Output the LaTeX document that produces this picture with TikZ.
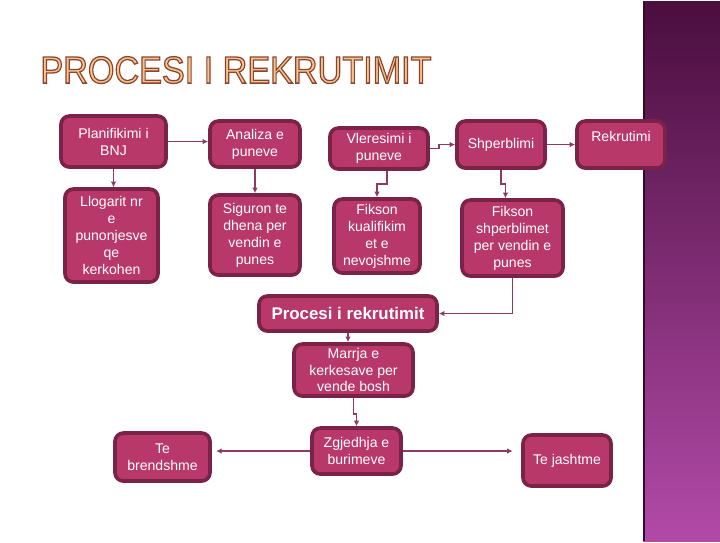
\documentclass[tikz,border=0pt]{standalone}
\usepackage{fontspec}
\setmainfont{Liberation Sans}
\usetikzlibrary{arrows.meta,positioning,calc}
\definecolor{cBox}{HTML}{B8386A}
\definecolor{cEdge}{HTML}{7A2248}
\definecolor{cLink}{HTML}{8E3A66}
\definecolor{cTitle}{HTML}{F8C48C}
\definecolor{cPanelTop}{HTML}{4A0E3E}
\definecolor{cPanelMid}{HTML}{7E2A72}
\definecolor{cPanelBot}{HTML}{B24AA8}
% outlined title text (fill cTitle, stroke brown)
\newcommand{\outlinetext}[1]{\special{pdf:literal direct 0.541 0.271 0.188 RG 0.9 w 2 Tr}#1\special{pdf:literal direct 0 Tr}}
\tikzset{
  box/.style ={draw=cEdge, fill=cBox, line width=2.6pt, rounded corners=6pt, align=center,
               text=white, font=\fontsize{10}{12}\selectfont, inner sep=1pt},
  sz/.style 2 args={minimum width=(#1-4)*0.025cm, minimum height=(#2-4)*0.025cm},
  ttl/.style ={font=\fontsize{27}{30}\selectfont, xscale=0.9, text=cTitle, inner sep=0pt},
  link/.style={-{Latex[length=1.4mm,width=1.4mm]}, line width=1.3pt, draw=cLink},
}
\begin{document}
\begin{tikzpicture}[x=0.025cm, y=-0.025cm]
    \fill[white] (0,0) rectangle (720,540);
    \shade[top color=cPanelTop, middle color=cPanelMid, bottom color=cPanelBot] (643,0) rectangle (720,540);
    \draw[cPanelTop!70!black, line width=1.5pt] (644,0) -- (644,540);
    \node[ttl] (title) at (236,69) {\outlinetext{PROCESI I REKRUTIMIT}};
    % first row
    \node[box, sz={109}{55}] (plan) at (113.5,140.5) {Planifikimi i\\BNJ};
    \node[box, sz={94}{50}]  (anal) at (255,143) {Analiza e\\puneve};
    \node[box, sz={102}{45}] (vler) at (379,147.5) {Vleresimi i\\puneve};
    \node[box, sz={92}{51}]  (shp)  at (501,143.5) {Shperblimi};
    \node[box, sz={92}{51}]  (rek)  at (621,143.5) {Rekrutimi\\\mbox{}};
    % second row
    \node[box, sz={97}{97}]  (llog) at (111.5,234.5) {Llogarit nr\\e\\punonjesve\\qe\\kerkohen};
    \node[box, sz={94}{84}]  (sig)  at (255,234) {Siguron te\\dhena per\\vendin e\\punes};
    \node[box, sz={90}{78}]  (fkual) at (377,235) {Fikson\\kualifikim\\et e\\nevojshme};
    \node[box, sz={105}{80}] (fshp) at (512.5,237) {Fikson\\shperblimet\\per vendin e\\punes};
    % process
    \node[box, sz={182}{39}, font=\bfseries\fontsize{12}{14}\selectfont] (proc) at (348,312.5) {Procesi i rekrutimit};
    \node[box, sz={123}{56}] (marr) at (353.5,369) {Marrja e\\kerkesave per\\vende bosh};
    \node[box, sz={93}{50}]  (zgj)  at (356.5,450) {Zgjedhja e\\burimeve};
    \node[box, sz={99}{52}]  (brend) at (162.5,456) {Te\\brendshme};
    \node[box, sz={92}{55}]  (jasht) at (567,459.5) {Te jashtme};
    \draw[link] (plan.east) -- (plan.east -| anal.west);
    \draw[link] (plan.south) -- (plan.south |- llog.north);
    \draw[link] (anal.south) -- (anal.south |- sig.north);
    \draw[link] (vler.-70) -- ++(0,13) -| (fkual.north);
    \draw[link] (vler.east) -- ++(9,0) |- (shp.west);
    \draw[link] (shp.east) -- (rek.west);
    \draw[link] (shp.south) -- ++(0,14) -| (fshp.100);
    \draw[link] (fshp.south) |- (proc.east);
    \draw[link] (proc.south) -- (proc.south |- marr.north);
    \draw[link] (marr.south) -- ++(0,16) -| (zgj.north);
    \draw[link, shorten >=3pt] (zgj.west) -- (zgj.west -| brend.east);
    \draw[link, shorten >=6pt] (zgj.east) -- (zgj.east -| jasht.west);
  \end{tikzpicture}
\end{document}
